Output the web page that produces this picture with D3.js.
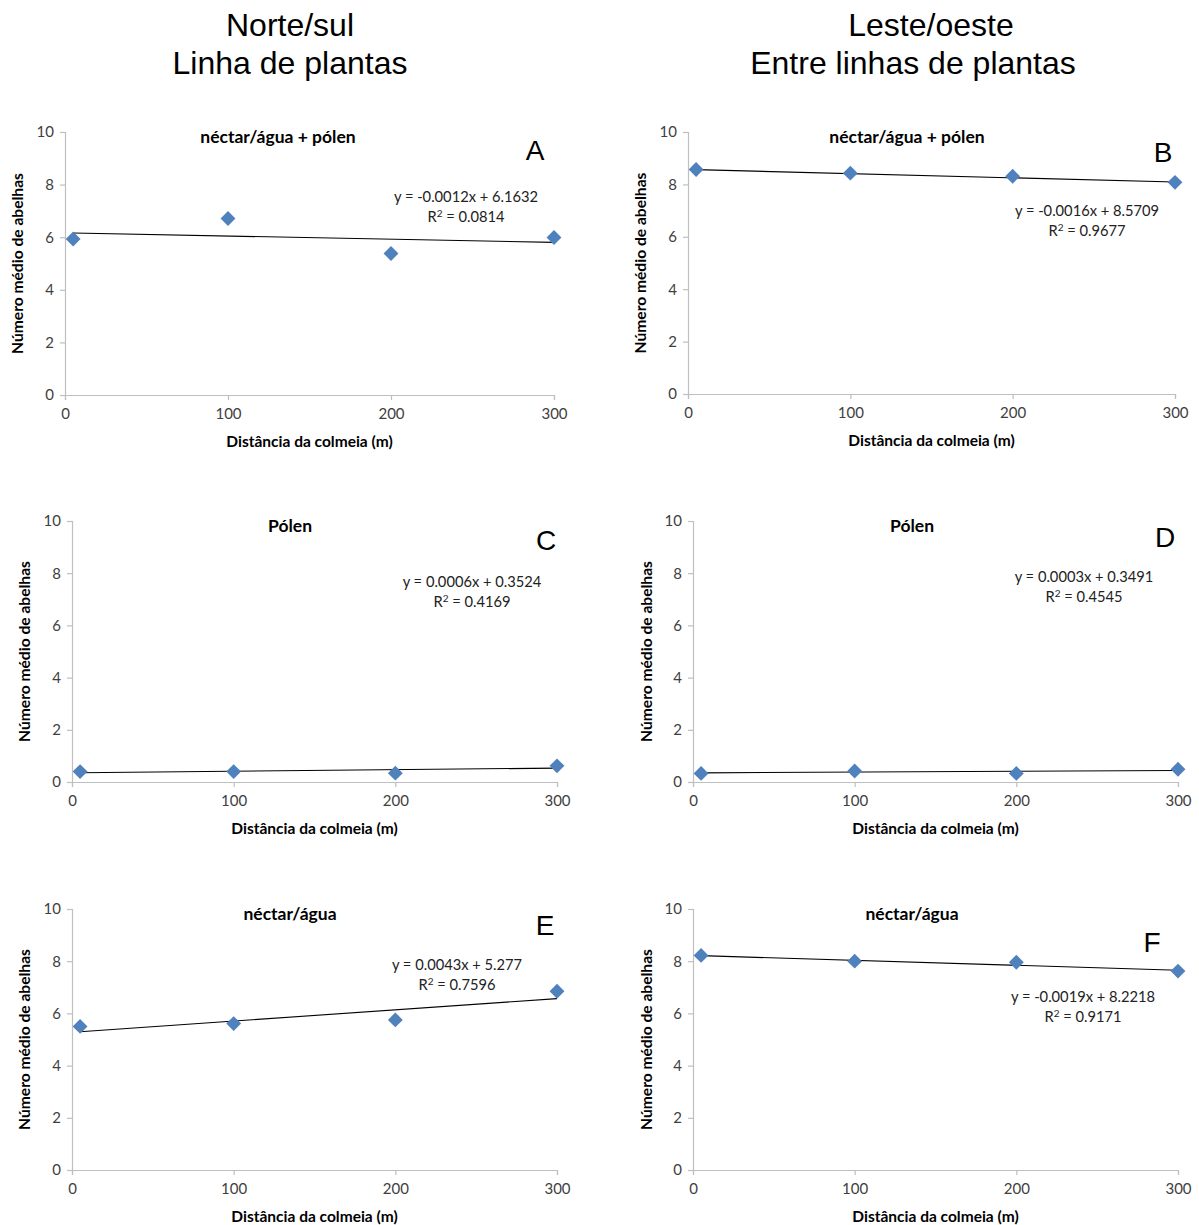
<!DOCTYPE html>
<html>
<head>
<meta charset="utf-8">
<script src="https://cdn.jsdelivr.net/npm/d3@7"></script>
<style>
  body { margin: 0; background: #fff; }
  svg { display: block; }
</style>
</head>
<body>
<div id="chart"></div>
<script>
// distances (m) where bees were counted
const distances = [5, 100, 200, 300];

// mean number of bees, one array per panel
const seriesA = [5.93, 6.71, 5.38, 5.99];
const seriesB = [8.57, 8.43, 8.31, 8.08];
const seriesC = [0.40, 0.40, 0.34, 0.62];
const seriesD = [0.33, 0.42, 0.33, 0.49];
const seriesE = [5.50, 5.61, 5.75, 6.85];
const seriesF = [8.22, 8.00, 7.96, 7.62];

// trendline coefficients as printed on the chart
const slopes = [-0.0012, -0.0016, 0.0006, 0.0003, 0.0043, -0.0019];
const intercepts = [6.1632, 8.5709, 0.3524, 0.3491, 5.277, 8.2218];
const r2Labels = ["0.0814", "0.9677", "0.4169", "0.4545", "0.7596", "0.9171"];
const eqLabels = [
  "y = -0.0012x + 6.1632",
  "y = -0.0016x + 8.5709",
  "y = 0.0006x + 0.3524",
  "y = 0.0003x + 0.3491",
  "y = 0.0043x + 5.277",
  "y = -0.0019x + 8.2218"
];

const panelLetters = ["A", "B", "C", "D", "E", "F"];
const panelTitles = ["néctar/água + pólen", "néctar/água + pólen", "Pólen", "Pólen", "néctar/água", "néctar/água"];
const xTicks = [0, 100, 200, 300];
const yTicks = [0, 2, 4, 6, 8, 10];
const columnHeaders = [["Norte/sul", "Linha de plantas"], ["Leste/oeste", "Entre linhas de plantas"]];

const allSeries = [seriesA, seriesB, seriesC, seriesD, seriesE, seriesF];

const width = 1199, height = 1225;
const svg = d3.select("#chart").append("svg")
  .attr("width", width)
  .attr("height", height);

// plot frames (left, right, top, bottom) plus text placement for each panel
const frames = [
  {l: 65,  r: 554,  t: 132, b: 395,  ylab: 18,  tx: 278, eqx: 466,  eqy: 202, lx: 535,  ly: 160},
  {l: 688, r: 1175, t: 132, b: 394,  ylab: 641, tx: 907, eqx: 1087, eqy: 216, lx: 1163, ly: 162},
  {l: 72,  r: 557,  t: 521, b: 782,  ylab: 25,  tx: 290, eqx: 472,  eqy: 587, lx: 546,  ly: 550},
  {l: 693, r: 1178, t: 521, b: 782,  ylab: 647, tx: 912, eqx: 1084, eqy: 582, lx: 1165, ly: 547},
  {l: 72,  r: 557,  t: 909, b: 1170, ylab: 25,  tx: 290, eqx: 457,  eqy: 970, lx: 545,  ly: 935},
  {l: 693, r: 1178, t: 909, b: 1170, ylab: 647, tx: 912, eqx: 1083, eqy: 1002, lx: 1152, ly: 952}
];

const textFont = "Lato, 'Open Sans', sans-serif";
const axisGrey = "#bfbfbf";
const tickText = "#404040";
const markerBlue = "#4f81bd";

// column headers
columnHeaders.forEach(function(lines, i) {
  const t = svg.append("text")
    .attr("text-anchor", "middle")
    .style("font-family", "'Liberation Sans', Arial, sans-serif")
    .style("font-size", "32px")
    .style("fill", "#000");
  t.append("tspan").attr("x", i === 0 ? 290 : 931).attr("y", 36).text(lines[0]);
  t.append("tspan").attr("x", i === 0 ? 290 : 913).attr("y", 74).text(lines[1]);
});

frames.forEach(function(f, i) {
  const g = svg.append("g");
  const data = allSeries[i];

  const x = d3.scaleLinear().domain([0, 300]).range([f.l, f.r]);
  const y = d3.scaleLinear().domain([0, 10]).range([f.b, f.t]);

  // y axis
  const yAxis = g.append("g")
    .attr("transform", `translate(${f.l},0)`)
    .call(d3.axisLeft(y).tickValues(yTicks).tickSize(5).tickPadding(6));
  // x axis
  const xAxis = g.append("g")
    .attr("transform", `translate(0,${f.b})`)
    .call(d3.axisBottom(x).tickValues(xTicks).tickSize(5).tickPadding(8));

  [yAxis, xAxis].forEach(function(ax) {
    ax.select(".domain").attr("stroke", axisGrey).attr("stroke-width", 1.2);
    ax.selectAll(".tick line").attr("stroke", axisGrey).attr("stroke-width", 1.2);
    ax.selectAll(".tick text")
      .style("font-family", textFont)
      .style("font-size", "15px")
      .style("fill", tickText);
  });

  // trendline over the data range
  const xs = d3.extent(distances);
  g.append("line")
    .attr("x1", x(xs[0])).attr("y1", y(slopes[i] * xs[0] + intercepts[i]))
    .attr("x2", x(xs[1])).attr("y2", y(slopes[i] * xs[1] + intercepts[i]))
    .attr("stroke", "#000")
    .attr("stroke-width", 1.1);

  // diamond markers
  g.selectAll("path.pt")
    .data(distances.map(function(d, j) { return {x: d, y: data[j]}; }))
    .join("path")
    .attr("class", "pt")
    .attr("d", d3.symbol(d3.symbolSquare, 110))
    .attr("transform", function(d) { return `translate(${x(d.x)},${y(d.y)}) rotate(45)`; })
    .attr("fill", markerBlue);

  // panel title
  g.append("text")
    .attr("x", f.tx)
    .attr("y", f.t + 11)
    .attr("text-anchor", "middle")
    .style("font-family", textFont)
    .style("font-weight", "bold")
    .style("font-size", "17.5px")
    .text(panelTitles[i]);

  // panel letter
  g.append("text")
    .attr("x", f.lx)
    .attr("y", f.ly)
    .attr("text-anchor", "middle")
    .style("font-family", "'Liberation Sans', Arial, sans-serif")
    .style("font-size", "28px")
    .text(panelLetters[i]);

  // equation and R²
  g.append("text")
    .attr("x", f.eqx).attr("y", f.eqy)
    .attr("text-anchor", "middle")
    .style("font-family", textFont)
    .style("font-size", "14.7px")
    .style("fill", "#222")
    .text(eqLabels[i]);
  const r2 = g.append("text")
    .attr("x", f.eqx).attr("y", f.eqy + 20)
    .attr("text-anchor", "middle")
    .style("font-family", textFont)
    .style("font-size", "14.7px")
    .style("fill", "#222");
  r2.append("tspan").text("R");
  r2.append("tspan").attr("dy", -5).style("font-size", "10px").text("2");
  r2.append("tspan").attr("dy", 5).text(" = " + r2Labels[i]);

  // axis titles
  g.append("text")
    .attr("transform", `translate(${f.ylab + 5},${(f.t + f.b) / 2}) rotate(-90)`)
    .attr("text-anchor", "middle")
    .style("font-family", textFont)
    .style("font-weight", "bold")
    .style("font-size", "15.6px")
    .text("Número médio de abelhas");
  g.append("text")
    .attr("x", (f.l + f.r) / 2 + 0)
    .attr("y", f.b + 52)
    .attr("text-anchor", "middle")
    .style("font-family", textFont)
    .style("font-weight", "bold")
    .style("font-size", "15.5px")
    .text("Distância da colmeia (m)");
});
</script>
</body>
</html>
